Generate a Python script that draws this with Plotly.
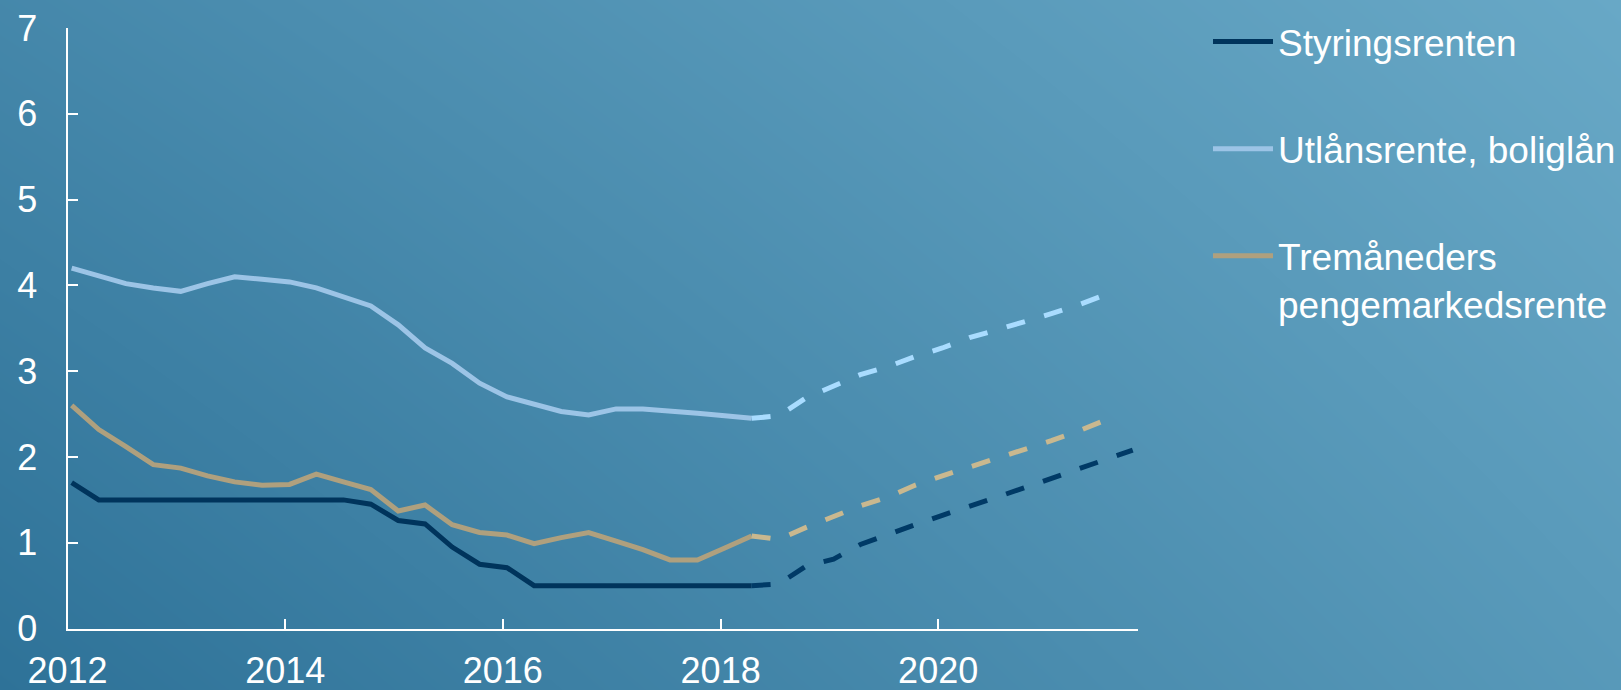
import plotly.graph_objects as go

# Kvartalsdata, 2012K1 - 2018K2 (historikk) og 2018K2 - 2021K4 (anslag)
HIST_QUARTERS = [f"{y}K{q}" for y in range(2012, 2019) for q in range(1, 5)][:26]
PROJ_QUARTERS = [f"{y}K{q}" for y in range(2018, 2022) for q in range(1, 5)][1:]

STYRINGSRENTE_HIST = [1.70, 1.50, 1.50, 1.50, 1.50, 1.50, 1.50, 1.50, 1.50, 1.50,
                      1.50, 1.45, 1.26, 1.22, 0.95, 0.75, 0.71, 0.50, 0.50, 0.50,
                      0.50, 0.50, 0.50, 0.50, 0.50, 0.50]
UTLAN_HIST = [4.20, 4.11, 4.02, 3.97, 3.93, 4.02, 4.10, 4.07, 4.04, 3.97,
              3.86, 3.76, 3.54, 3.27, 3.09, 2.86, 2.70, 2.62, 2.53, 2.49,
              2.56, 2.56, 2.54, 2.51, 2.48, 2.45]
PENGEMARKED_HIST = [2.60, 2.32, 2.12, 1.91, 1.87, 1.78, 1.71, 1.67, 1.68, 1.80,
                    1.71, 1.62, 1.37, 1.44, 1.21, 1.12, 1.09, 0.99, 1.06, 1.12,
                    1.02, 0.92, 0.80, 0.80, 0.94, 1.08]

STYRINGSRENTE_PROJ = [0.50, 0.52, 0.73, 0.81, 0.98, 1.10, 1.21, 1.32, 1.42, 1.53,
                      1.64, 1.75, 1.86, 1.97, 2.08]
UTLAN_PROJ = [2.45, 2.48, 2.69, 2.83, 2.96, 3.05, 3.17, 3.27, 3.39, 3.48,
              3.57, 3.67, 3.77, 3.89]
PENGEMARKED_PROJ = [1.08, 1.04, 1.18, 1.30, 1.43, 1.53, 1.67, 1.78, 1.88, 1.98,
                    2.08, 2.19, 2.30, 2.43]

NAVN = ["Styringsrenten", "Utlånsrente, boliglån", "Tremåneders<br>pengemarkedsrente"]
FARGER_HIST = ["#00345c", "#9cc4e6", "#afa07e"]
FARGER_PROJ = ["#003a66", "#a9dcff", "#c9b88f"]

Y_TICKS = [0, 1, 2, 3, 4, 5, 6, 7]

FONT = "Liberation Sans, Arial, sans-serif"


def kvartal_til_dato(k):
    # kvartalene plottes midt i første måned (15.)
    aar, q = k.split("K")
    return f"{aar}-{(int(q) - 1) * 3 + 1:02d}-15"


hist_x = [kvartal_til_dato(k) for k in HIST_QUARTERS]
proj_x = [kvartal_til_dato(k) for k in PROJ_QUARTERS]

fig = go.Figure()

# Bakgrunn med diagonal gradient (mørk nede til venstre, lys oppe til høyre)
fig.add_trace(go.Heatmap(
    x=[0, 1], y=[0, 1], z=[[0, 0.72], [0.40, 1]],
    colorscale=[[0, "#2e7298"], [1, "#68a8c6"]],
    zsmooth="best", showscale=False, hoverinfo="skip",
    xaxis="x", yaxis="y", showlegend=False,
))

hist_serier = [STYRINGSRENTE_HIST, UTLAN_HIST, PENGEMARKED_HIST]
proj_serier = [STYRINGSRENTE_PROJ, UTLAN_PROJ, PENGEMARKED_PROJ]

for i, navn in enumerate(NAVN):
    fig.add_trace(go.Scatter(
        x=hist_x, y=hist_serier[i], mode="lines", name=navn,
        line=dict(color=FARGER_HIST[i], width=5),
        legendgroup=f"g{i}", xaxis="x2", yaxis="y2",
    ))
    fig.add_trace(go.Scatter(
        x=proj_x[:len(proj_serier[i])], y=proj_serier[i], mode="lines",
        line=dict(color=FARGER_PROJ[i], width=5, dash="19px,20px"),
        legendgroup=f"g{i}", showlegend=False, xaxis="x2", yaxis="y2",
    ))

fig.update_layout(
    width=1621, height=690, autosize=False,
    margin=dict(l=0, r=0, t=0, b=0, pad=0),
    paper_bgcolor="#3f82a8", plot_bgcolor="rgba(0,0,0,0)",
    font=dict(family=FONT, color="white", size=36),
    xaxis=dict(domain=[0, 1], range=[0, 1], visible=False, fixedrange=True,
               automargin=False),
    yaxis=dict(domain=[0, 1], range=[0, 1], visible=False, fixedrange=True,
               automargin=False),
    xaxis2=dict(
        domain=[67.5 / 1621, 1137.5 / 1621], anchor="y2", type="date",
        range=["2012-01-01", "2021-10-31"],
        tick0="2012-01-01", dtick="M24", tickformat="%Y",
        showgrid=False, zeroline=False, automargin=False,
        showline=True, linecolor="white", linewidth=2,
        ticks="inside", ticklen=10, tickwidth=2, tickcolor="white",
        ticklabelstandoff=9, tickfont=dict(size=36, color="white"),
    ),
    yaxis2=dict(
        domain=[1 - 628.6 / 690, 1 - 27.9 / 690], anchor="x2",
        range=[0, 7], tickvals=Y_TICKS,
        showgrid=False, zeroline=False, automargin=False,
        showline=True, linecolor="white", linewidth=2,
        ticks="inside", ticklen=10, tickwidth=2, tickcolor="white",
        ticklabelstandoff=21, tickfont=dict(size=36, color="white"),
    ),
    legend=dict(
        x=1208 / 1621, xanchor="left", y=1 - 11 / 690, yanchor="top",
        bgcolor="rgba(0,0,0,0)", font=dict(size=37, color="white"),
        valign="top", tracegroupgap=56, traceorder="grouped", itemwidth=60,
    ),
    showlegend=True,
)

fig.write_html("out.html", config={"displayModeBar": False},
               post_script="document.body.style.margin='0';")
